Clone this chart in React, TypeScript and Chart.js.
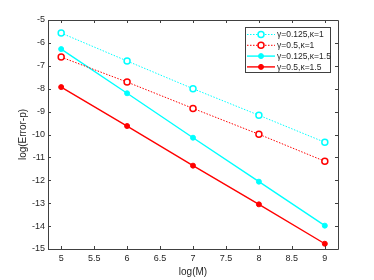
import React, { useEffect, useRef } from "react";
import { Chart, registerables } from "chart.js";

Chart.register(...registerables);

const xValues = [5, 6, 7, 8, 9];
const seriesLabels = ["γ=0.125,κ=1", "γ=0.5,κ=1", "γ=0.125,κ=1.5", "γ=0.5,κ=1.5"];
const seriesA = [-5.57, -6.79, -8.0, -9.16, -10.34];
const seriesB = [-6.62, -7.71, -8.86, -9.99, -11.17];
const seriesC = [-6.27, -8.2, -10.14, -12.06, -13.98];
const seriesD = [-7.93, -9.63, -11.36, -13.05, -14.77];
const xTicks = [5, 5.5, 6, 6.5, 7, 7.5, 8, 8.5, 9];
const yTicks = [-5, -6, -7, -8, -9, -10, -11, -12, -13, -14, -15];

const FONT = "'Liberation Sans', Arial, Helvetica, sans-serif";
const AXIS = "#404040";
const TEXT = "#262626";

const boxTicksPlugin = {
  id: "boxTicks",
  afterDatasetsDraw(chart: any) {
    const { ctx, chartArea } = chart;
    const xs = chart.scales.x;
    const ys = chart.scales.y;
    const { left, right, top, bottom } = chartArea;
    const L = 3;
    ctx.save();
    ctx.strokeStyle = AXIS;
    ctx.lineWidth = 1;
    ctx.setLineDash([]);
    ctx.beginPath();
    ctx.rect(Math.round(left) + 0.5, Math.round(top) + 0.5, Math.round(right - left), Math.round(bottom - top));
    ctx.stroke();
    ctx.beginPath();
    xTicks.forEach((v) => {
      const px = Math.round(xs.getPixelForValue(v)) + 0.5;
      ctx.moveTo(px, bottom);
      ctx.lineTo(px, bottom - L);
      ctx.moveTo(px, top);
      ctx.lineTo(px, top + L);
    });
    yTicks.forEach((v) => {
      const py = Math.round(ys.getPixelForValue(v)) + 0.5;
      ctx.moveTo(left, py);
      ctx.lineTo(left + L, py);
      ctx.moveTo(right, py);
      ctx.lineTo(right - L, py);
    });
    ctx.stroke();
    ctx.restore();
  },
};

const boxLegendPlugin = {
  id: "boxLegend",
  afterDraw(chart: any) {
    const { ctx, chartArea } = chart;
    const w = 85;
    const h = 45;
    const x0 = Math.round(chartArea.right - 8 - w);
    const y0 = Math.round(chartArea.top + 7);
    ctx.save();
    ctx.fillStyle = "#ffffff";
    ctx.fillRect(x0, y0, w, h);
    ctx.strokeStyle = AXIS;
    ctx.lineWidth = 1;
    ctx.setLineDash([]);
    ctx.strokeRect(x0 + 0.5, y0 + 0.5, w, h);
    chart.data.datasets.forEach((ds: any, i: number) => {
      const cy = y0 + 7.5 + i * 10.8;
      ctx.strokeStyle = ds.borderColor;
      ctx.lineWidth = ds.borderWidth;
      ctx.setLineDash(ds.borderDash || []);
      ctx.beginPath();
      ctx.moveTo(x0 + 2, cy);
      ctx.lineTo(x0 + 30, cy);
      ctx.stroke();
      ctx.setLineDash([]);
      ctx.beginPath();
      ctx.arc(x0 + 16, cy, ds.pointRadius, 0, Math.PI * 2);
      ctx.fillStyle = ds.pointBackgroundColor;
      ctx.fill();
      ctx.lineWidth = ds.pointBorderWidth;
      ctx.strokeStyle = ds.pointBorderColor;
      ctx.stroke();
      ctx.fillStyle = TEXT;
      ctx.font = `8.5px ${FONT}`;
      ctx.textBaseline = "middle";
      ctx.textAlign = "left";
      ctx.fillText(ds.label, x0 + 32, cy + 0.5);
    });
    ctx.restore();
  },
};

function toPts(ys: number[]) {
  return xValues.map((x, i) => ({ x, y: ys[i] }));
}

export default function App() {
  const ref = useRef<HTMLCanvasElement | null>(null);
  useEffect(() => {
    if (!ref.current) return;
    const cyan = "#00ffff";
    const red = "#ff0000";
    const chart = new Chart(ref.current, {
      type: "line",
      data: {
        datasets: [
          {
            label: seriesLabels[0],
            data: toPts(seriesA),
            borderColor: cyan,
            borderWidth: 1,
            borderDash: [1.5, 1.5],
            pointRadius: 3,
            pointBorderWidth: 1.5,
            pointBorderColor: cyan,
            pointBackgroundColor: "#ffffff",
          },
          {
            label: seriesLabels[1],
            data: toPts(seriesB),
            borderColor: red,
            borderWidth: 1,
            borderDash: [1.5, 1.5],
            pointRadius: 3,
            pointBorderWidth: 1.5,
            pointBorderColor: red,
            pointBackgroundColor: "#ffffff",
          },
          {
            label: seriesLabels[2],
            data: toPts(seriesC),
            borderColor: cyan,
            borderWidth: 1.4,
            pointRadius: 2.5,
            pointBorderWidth: 1,
            pointBorderColor: cyan,
            pointBackgroundColor: cyan,
          },
          {
            label: seriesLabels[3],
            data: toPts(seriesD),
            borderColor: red,
            borderWidth: 1.4,
            pointRadius: 2.5,
            pointBorderWidth: 1,
            pointBorderColor: red,
            pointBackgroundColor: red,
          },
        ] as any,
      },
      options: {
        animation: false,
        responsive: false,
        maintainAspectRatio: false,
        layout: { padding: { left: 0, top: 20, right: 36, bottom: 0 } },
        plugins: { legend: { display: false }, tooltip: { enabled: false } },
        scales: {
          x: {
            type: "linear",
            min: 4.8,
            max: 9.2,
            grid: { display: false, drawTicks: false },
            border: { display: false },
            afterBuildTicks: (s: any) => {
              s.ticks = xTicks.map((v) => ({ value: v }));
            },
            afterFit: (s: any) => {
              s.height = 31;
            },
            ticks: {
              padding: 4,
              color: TEXT,
              font: { size: 9, family: FONT },
              maxRotation: 0,
              autoSkip: false,
              callback: (v: any) => String(v),
            },
            title: {
              display: true,
              text: "log(M)",
              color: TEXT,
              font: { size: 10, family: FONT },
              padding: { top: 0, bottom: 2 },
            },
          },
          y: {
            type: "linear",
            min: -15,
            max: -5,
            grid: { display: false, drawTicks: false },
            border: { display: false },
            afterBuildTicks: (s: any) => {
              s.ticks = yTicks.map((v) => ({ value: v }));
            },
            afterFit: (s: any) => {
              s.width = 48;
            },
            ticks: {
              padding: 3,
              color: TEXT,
              font: { size: 9, family: FONT },
              autoSkip: false,
              callback: (v: any) => String(v),
            },
            title: {
              display: true,
              text: "log(Error-p)",
              color: TEXT,
              font: { size: 10, family: FONT },
              padding: { top: 17, bottom: 0 },
            },
          },
        },
      } as any,
      plugins: [boxTicksPlugin, boxLegendPlugin],
    });
    return () => chart.destroy();
  }, []);
  return (
    <div style={{ position: "fixed", left: 0, top: 0, width: 374, height: 280, background: "#fff" }}>
      <canvas ref={ref} width={374} height={280} style={{ width: 374, height: 280, display: "block" }} />
    </div>
  );
}
